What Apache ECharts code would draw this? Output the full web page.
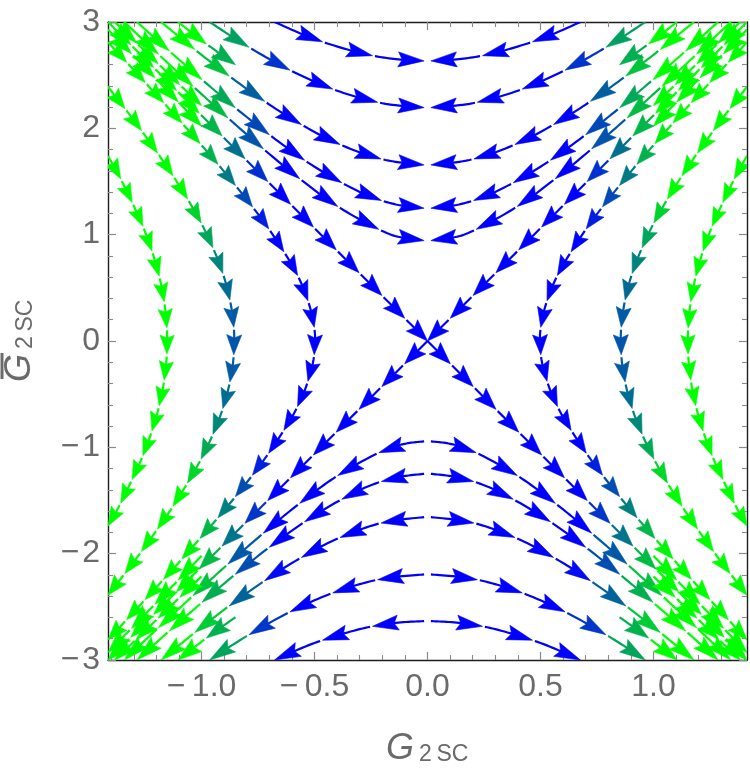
<!DOCTYPE html>
<html><head><meta charset="utf-8">
<script src="https://cdn.jsdelivr.net/npm/echarts@6/dist/echarts.min.js"></script>
<style>html,body{margin:0;padding:0;background:#fff}#c{width:750px;height:769px}</style>
</head><body><div id="c"></div>
<script>
// ---- axis ticks and labels ----
const xMajorTicks = [-1, -0.5, 0, 0.5, 1];
const xTickLabels = ['\u2212\u20091.0', '\u2212\u20090.5', '0.0', '0.5', '1.0'];
const xMinorTicks = [-1.4,-1.3,-1.2,-1.1,-0.9,-0.8,-0.7,-0.6,-0.4,-0.3,-0.2,-0.1,0.1,0.2,0.3,0.4,0.6,0.7,0.8,0.9,1.1,1.2,1.3,1.4];
const yMajorTicks = [-3, -2, -1, 0, 1, 2, 3];
const yTickLabels = ['\u2212\u200A3', '\u2212\u200A2', '\u2212\u200A1', '0', '1', '2', '3'];
const yMinorTicks = [-2.8,-2.6,-2.4,-2.2,-1.8,-1.6,-1.4,-1.2,-0.8,-0.6,-0.4,-0.2,0.2,0.4,0.6,0.8,1.2,1.4,1.6,1.8,2.2,2.4,2.6,2.8];

// ---- streamlines (points in flow order) ----
const upperLeftCurves = [
  [[-0.677,3.0],[-0.5,2.840],[-0.3,2.710],[-0.15,2.653],[-0.015,2.634]],
  [[-0.964,3.0],[-0.8,2.775],[-0.6,2.538],[-0.4,2.354],[-0.2,2.236],[-0.015,2.195]],
  [[-1.179,3.0],[-1.0,2.691],[-0.8,2.371],[-0.6,2.088],[-0.4,1.860],[-0.2,1.709],[-0.015,1.656]],
  [[-1.286,3.0],[-1.1,2.647],[-0.9,2.281],[-0.7,1.940],[-0.5,1.639],[-0.3,1.402],[-0.15,1.289],[-0.015,1.249]],
  [[-1.342,3.0],[-1.2,2.715],[-1.0,2.322],[-0.8,1.942],[-0.6,1.584],[-0.4,1.269],[-0.2,1.034],[-0.1,0.967],[-0.015,0.944]]
];
const upperRightCurves = [
  [[0.677,3.0],[0.5,2.840],[0.3,2.710],[0.15,2.653],[0.015,2.634]],
  [[0.964,3.0],[0.8,2.775],[0.6,2.538],[0.4,2.354],[0.2,2.236],[0.015,2.195]],
  [[1.179,3.0],[1.0,2.691],[0.8,2.371],[0.6,2.088],[0.4,1.860],[0.2,1.709],[0.015,1.656]],
  [[1.286,3.0],[1.1,2.647],[0.9,2.281],[0.7,1.940],[0.5,1.639],[0.3,1.402],[0.15,1.289],[0.015,1.249]],
  [[1.342,3.0],[1.2,2.715],[1.0,2.322],[0.8,1.942],[0.6,1.584],[0.4,1.269],[0.2,1.034],[0.1,0.967],[0.015,0.944]]
];
const lowerLeftCurves = [
  [[-0.015,-2.634],[-0.15,-2.653],[-0.3,-2.710],[-0.5,-2.840],[-0.677,-3.0]],
  [[-0.015,-2.195],[-0.2,-2.236],[-0.4,-2.354],[-0.6,-2.538],[-0.8,-2.775],[-0.964,-3.0]],
  [[-0.015,-1.656],[-0.2,-1.709],[-0.4,-1.860],[-0.6,-2.088],[-0.8,-2.371],[-1.0,-2.691],[-1.179,-3.0]],
  [[-0.015,-1.249],[-0.15,-1.289],[-0.3,-1.402],[-0.5,-1.639],[-0.7,-1.940],[-0.9,-2.281],[-1.1,-2.647],[-1.286,-3.0]],
  [[-0.015,-0.944],[-0.1,-0.967],[-0.2,-1.034],[-0.4,-1.269],[-0.6,-1.584],[-0.8,-1.942],[-1.0,-2.322],[-1.2,-2.715],[-1.342,-3.0]]
];
const lowerRightCurves = [
  [[0.015,-2.634],[0.15,-2.653],[0.3,-2.710],[0.5,-2.840],[0.677,-3.0]],
  [[0.015,-2.195],[0.2,-2.236],[0.4,-2.354],[0.6,-2.538],[0.8,-2.775],[0.964,-3.0]],
  [[0.015,-1.656],[0.2,-1.709],[0.4,-1.860],[0.6,-2.088],[0.8,-2.371],[1.0,-2.691],[1.179,-3.0]],
  [[0.015,-1.249],[0.15,-1.289],[0.3,-1.402],[0.5,-1.639],[0.7,-1.940],[0.9,-2.281],[1.1,-2.647],[1.286,-3.0]],
  [[0.015,-0.944],[0.1,-0.967],[0.2,-1.034],[0.4,-1.269],[0.6,-1.584],[0.8,-1.942],[1.0,-2.322],[1.2,-2.715],[1.342,-3.0]]
];
const cornerCurves = [
  [[-1.104,3.0],[-1.0,2.828],[-0.9,2.673],[-0.85,2.598]],
  [[-1.384,3.0],[-1.3,2.829],[-1.2,2.623],[-1.1,2.418],[-1.0,2.214]],
  [[-1.414,2.929],[-1.3,2.680],[-1.2,2.462],[-1.1,2.242],[-1.0,2.02]],
  [[1.104,3.0],[1.0,2.828],[0.9,2.673],[0.85,2.598]],
  [[1.384,3.0],[1.3,2.829],[1.2,2.623],[1.1,2.418],[1.0,2.214]],
  [[1.414,2.929],[1.3,2.680],[1.2,2.462],[1.1,2.242],[1.0,2.02]],
  [[-0.85,-2.598],[-0.9,-2.673],[-1.0,-2.828],[-1.104,-3.0]],
  [[-1.0,-2.214],[-1.1,-2.418],[-1.2,-2.623],[-1.3,-2.829],[-1.384,-3.0]],
  [[-1.0,-2.02],[-1.1,-2.242],[-1.2,-2.462],[-1.3,-2.680],[-1.414,-2.929]],
  [[0.85,-2.598],[0.9,-2.673],[1.0,-2.828],[1.104,-3.0]],
  [[1.0,-2.214],[1.1,-2.418],[1.2,-2.623],[1.3,-2.829],[1.384,-3.0]],
  [[1.0,-2.02],[1.1,-2.242],[1.2,-2.462],[1.3,-2.680],[1.414,-2.929]]
];
const separatrixLines = [
  [[-1.414,3.0],[-0.707,1.5],[0,0]],
  [[1.414,3.0],[0.707,1.5],[0,0]],
  [[0,0],[-0.707,-1.5],[-1.414,-3.0]],
  [[0,0],[0.707,-1.5],[1.414,-3.0]]
];
const leftSideCurves = [
  [[-1.414,2.81],[-1.279,2.5],[-1.066,2.0],[-0.864,1.5],[-0.685,1.0],[-0.550,0.5],[-0.497,0],[-0.550,-0.5],[-0.685,-1.0],[-0.864,-1.5],[-1.066,-2.0],[-1.279,-2.5],[-1.414,-2.81]],
  [[-1.414,2.39],[-1.273,2.0],[-1.110,1.5],[-0.976,1.0],[-0.887,0.5],[-0.855,0],[-0.887,-0.5],[-0.976,-1.0],[-1.110,-1.5],[-1.273,-2.0],[-1.414,-2.39]],
  [[-1.414,1.74],[-1.352,1.5],[-1.245,1.0],[-1.176,0.5],[-1.152,0],[-1.176,-0.5],[-1.245,-1.0],[-1.352,-1.5],[-1.414,-1.74]]
];
const rightSideCurves = [
  [[1.414,2.81],[1.279,2.5],[1.066,2.0],[0.864,1.5],[0.685,1.0],[0.550,0.5],[0.497,0],[0.550,-0.5],[0.685,-1.0],[0.864,-1.5],[1.066,-2.0],[1.279,-2.5],[1.414,-2.81]],
  [[1.414,2.39],[1.273,2.0],[1.110,1.5],[0.976,1.0],[0.887,0.5],[0.855,0],[0.887,-0.5],[0.976,-1.0],[1.110,-1.5],[1.273,-2.0],[1.414,-2.39]],
  [[1.414,1.74],[1.352,1.5],[1.245,1.0],[1.176,0.5],[1.152,0],[1.176,-0.5],[1.245,-1.0],[1.352,-1.5],[1.414,-1.74]]
];

// ---- drawing styles ----
const kindStyle = {
  u: {gap: 46, head: 26, wid: 15},
  c: {gap: 31, head: 24, wid: 16},
  x: {gap: 32, head: 22, wid: 16},
  s: {gap: 27, head: 20, wid: 15}
};
const families = [
  {lines: upperLeftCurves, kind: 'u'}, {lines: upperRightCurves, kind: 'u'},
  {lines: lowerLeftCurves, kind: 'u'}, {lines: lowerRightCurves, kind: 'u'},
  {lines: cornerCurves, kind: 'c'}, {lines: separatrixLines, kind: 'x'},
  {lines: leftSideCurves, kind: 's'}, {lines: rightSideCurves, kind: 's'}
];
const streams = [];
families.forEach(f => f.lines.forEach(l => streams.push({pts: l, kind: f.kind})));

// colour by local flow speed (blue slow -> green fast)
function colorAt(x, y) {
  const s = Math.abs(x) * Math.sqrt(y * y + 20.25 * x * x);
  let t = (s - 2.2) / 3.3;
  t = Math.max(0, Math.min(1, t));
  return 'rgb(0,' + Math.round(255 * t) + ',' + Math.round(255 * (1 - t)) + ')';
}
function catmullRom(p, n) {
  if (p.length < 3) {
    const out = [];
    for (let k = 0; k <= n; k++) { const t = k / n; out.push([p[0][0] + (p[1][0] - p[0][0]) * t, p[0][1] + (p[1][1] - p[0][1]) * t]); }
    return out;
  }
  const out = [];
  for (let i = 0; i < p.length - 1; i++) {
    const p0 = p[i === 0 ? 0 : i - 1], p1 = p[i], p2 = p[i + 1], p3 = p[i + 2 < p.length ? i + 2 : p.length - 1];
    for (let k = 0; k < n; k++) {
      const t = k / n, t2 = t * t, t3 = t2 * t;
      const f = (a, b, c, d) => 0.5 * (2 * b + (-a + c) * t + (2 * a - 5 * b + 4 * c - d) * t2 + (-a + 3 * b - 3 * c + d) * t3);
      out.push([f(p0[0], p1[0], p2[0], p3[0]), f(p0[1], p1[1], p2[1], p3[1])]);
    }
  }
  out.push(p[p.length - 1]);
  return out;
}
function renderStream(params, api) {
  const st = streams[api.value(2)];
  const K = kindStyle[st.kind];
  const pix = st.pts.map(p => api.coord(p));
  const o = api.coord([0, 0]), e = api.coord([1, 1]);
  const sx = e[0] - o[0], sy = e[1] - o[1];
  const pts = catmullRom(pix, 14);
  const cum = [0];
  for (let i = 1; i < pts.length; i++) cum.push(cum[i - 1] + Math.hypot(pts[i][0] - pts[i - 1][0], pts[i][1] - pts[i - 1][1]));
  const L = cum[cum.length - 1];
  function at(s) {
    if (s <= 0) return pts[0].slice();
    if (s >= L) return pts[pts.length - 1].slice();
    let i = 1; while (cum[i] < s) i++;
    const f = (s - cum[i - 1]) / ((cum[i] - cum[i - 1]) || 1);
    return [pts[i - 1][0] + (pts[i][0] - pts[i - 1][0]) * f, pts[i - 1][1] + (pts[i][1] - pts[i - 1][1]) * f];
  }
  function piece(s0, s1) {
    const r = [at(s0)];
    for (let i = 0; i < pts.length; i++) if (cum[i] > s0 && cum[i] < s1) r.push(pts[i]);
    r.push(at(s1));
    return r;
  }
  const n = Math.max(1, Math.round(L / K.gap));
  const d = L / n;
  const children = [];
  for (let i = 0; i < n; i++) {
    const s0 = i * d + (i > 0 ? 2.5 : 0), s1 = (i + 1) * d;
    const h = Math.min(K.head, 0.8 * (s1 - s0));
    const w = K.wid * h / K.head;
    const mid = at((s0 + s1) / 2);
    const col = colorAt((mid[0] - o[0]) / sx, (mid[1] - o[1]) / sy);
    const tip = at(s1), back = at(s1 - h);
    let ux = tip[0] - back[0], uy = tip[1] - back[1];
    const m = Math.hypot(ux, uy) || 1; ux /= m; uy /= m;
    const vx = -uy, vy = ux;
    const bx = tip[0] - ux * h, by = tip[1] - uy * h;
    if (s1 - h * 0.6 > s0) {
      children.push({type: 'polyline', silent: true, shape: {points: piece(s0, s1 - h * 0.6)},
        style: {stroke: col, lineWidth: 2.2, fill: null}});
    }
    children.push({type: 'polygon', silent: true,
      shape: {points: [tip, [bx + vx * w / 2, by + vy * w / 2], [tip[0] - ux * h * 0.84, tip[1] - uy * h * 0.84], [bx - vx * w / 2, by - vy * w / 2]]},
      style: {fill: col, stroke: col, lineWidth: 0.6}});
  }
  return {type: 'group', children};
}

const labelFont = 'Liberation Sans';
const frameColor = '#1e1e1e', tickColor = '#8a8a8a', textColor = '#6a6a6a';
function tickFmt(ticks, labels) {
  return v => { const i = ticks.findIndex(t => Math.abs(t - v) < 1e-9); return i >= 0 ? labels[i] : ''; };
}
function axisPair(dim, position, major, minor, withLabels, labels, range) {
  const base = {type: 'value', min: range[0], max: range[1], position, splitLine: {show: false}, minorTick: {show: false}};
  const main = Object.assign({}, base, {
    axisLine: {show: true, onZero: false, lineStyle: {color: frameColor, width: 1.4}},
    axisTick: {show: true, inside: true, length: 8, customValues: major, lineStyle: {color: tickColor, width: 1.2}},
    axisLabel: withLabels ? {show: true, customValues: major, formatter: tickFmt(major, labels), fontSize: 32,
      fontFamily: labelFont, color: textColor, margin: dim === 'x' ? 11 : 8} : {show: false}
  });
  const minorAx = Object.assign({}, base, {
    axisLine: {show: false, onZero: false},
    axisTick: {show: true, inside: true, length: 5, customValues: minor, lineStyle: {color: tickColor, width: 1.1}},
    axisLabel: {show: false}
  });
  return [main, minorAx];
}
const xr = [-1.414, 1.414], yr = [-3, 3];
const option = {
  animation: false,
  backgroundColor: '#ffffff',
  grid: {left: 108, right: 3, top: 22, bottom: 109, containLabel: false},
  xAxis: [].concat(axisPair('x', 'bottom', xMajorTicks, xMinorTicks, true, xTickLabels, xr),
                   axisPair('x', 'top', xMajorTicks, xMinorTicks, false, null, xr)),
  yAxis: [].concat(axisPair('y', 'left', yMajorTicks, yMinorTicks, true, yTickLabels, yr),
                   axisPair('y', 'right', yMajorTicks, yMinorTicks, false, null, yr)),
  series: [{
    type: 'custom',
    coordinateSystem: 'cartesian2d',
    xAxisIndex: 0, yAxisIndex: 0,
    clip: true,
    dimensions: ['x', 'y', 'idx'],
    encode: {x: 0, y: 1},
    data: streams.map((s, i) => [s.pts[0][0], s.pts[0][1], i]),
    renderItem: renderStream,
    silent: true
  }],
  graphic: [
    {type: 'group', children: [
      {type: 'text', x: 386, y: 749, style: {text: 'G', font: 'italic 36px "Liberation Sans"', fill: textColor, align: 'left', verticalAlign: 'middle', textAlign: 'left', textVerticalAlign: 'middle'}},
      {type: 'text', x: 419, y: 755, style: {text: '2\u2009SC', font: '23px "Liberation Sans"', fill: textColor, align: 'left', verticalAlign: 'middle', textAlign: 'left', textVerticalAlign: 'middle'}}
    ]},
    {type: 'group', x: 20, y: 342, rotation: Math.PI / 2, children: [
      {type: 'text', x: -40, y: 0, style: {text: 'G', font: 'italic 36px "Liberation Sans"', fill: textColor, align: 'left', verticalAlign: 'middle', textAlign: 'left', textVerticalAlign: 'middle'}},
      {type: 'text', x: -7, y: 6, style: {text: '2\u2009SC', font: '23px "Liberation Sans"', fill: textColor, align: 'left', verticalAlign: 'middle', textAlign: 'left', textVerticalAlign: 'middle'}},
      {type: 'line', shape: {x1: -37, y1: -18, x2: -11, y2: -18}, style: {stroke: textColor, lineWidth: 3}}
    ]}
  ]
};
const chart = echarts.init(document.getElementById('c'), null, {renderer: 'canvas'});
chart.setOption(option);
</script></body></html>
